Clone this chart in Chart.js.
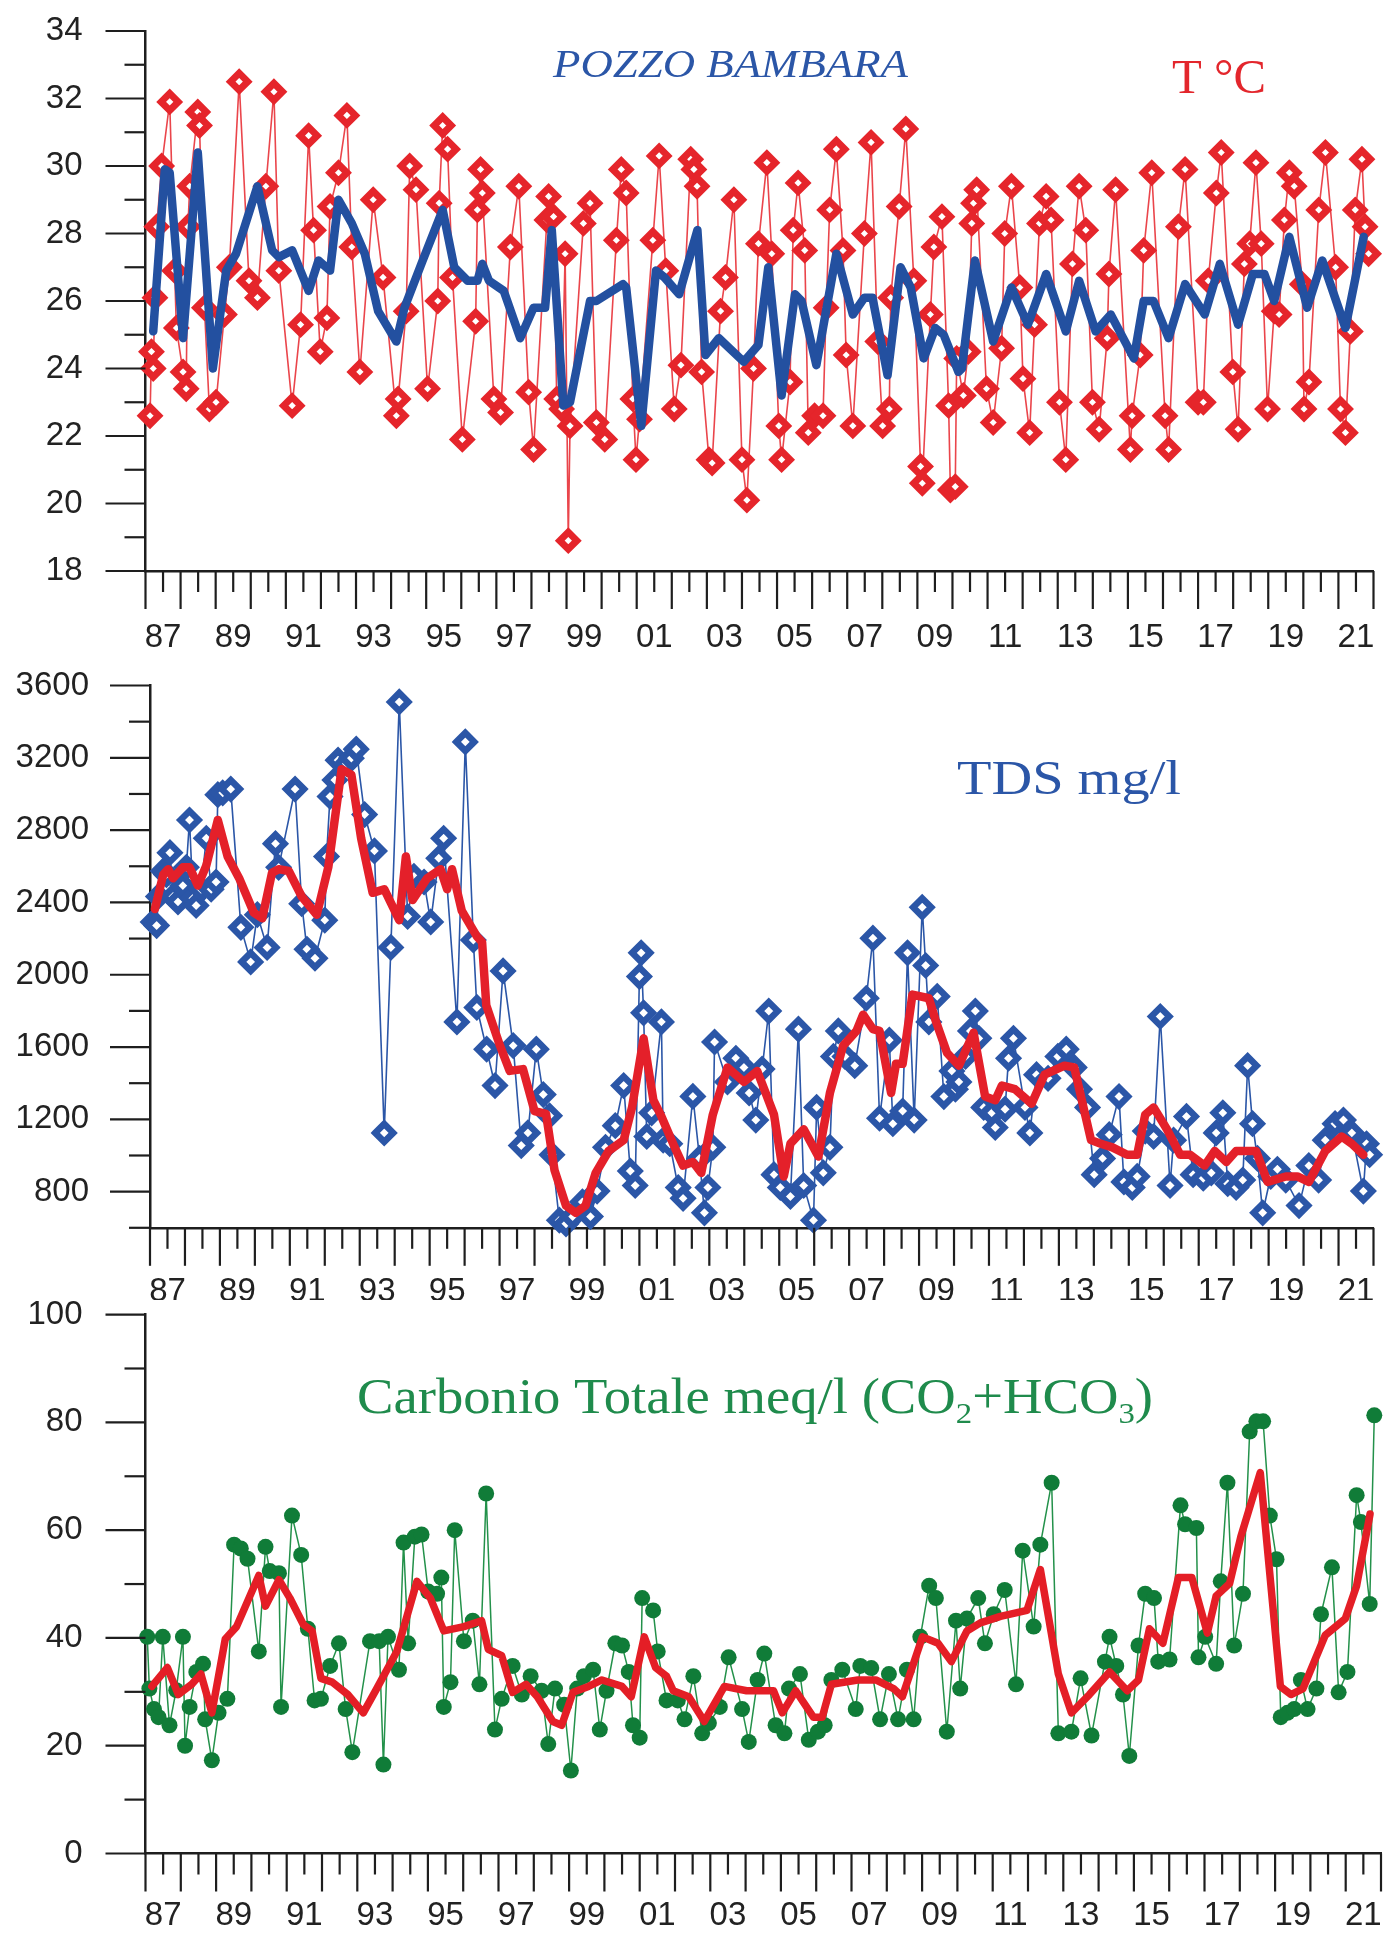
<!DOCTYPE html>
<html><head><meta charset="utf-8">
<script src="https://cdn.jsdelivr.net/npm/chart.js@4.4.1/dist/chart.umd.min.js"></script>
<style>
html,body{margin:0;padding:0;background:#fff;}
#wrap{position:relative;width:1389px;height:1934px;overflow:hidden;background:#fff;}
.pane{position:absolute;left:0;width:1389px;}
canvas{display:block;}
</style></head><body>
<div id="wrap">
<div class="pane" style="top:0;height:655px"><canvas id="c1"></canvas></div>
<div class="pane" style="top:655px;height:645px"><canvas id="c2"></canvas></div>
<div class="pane" style="top:1300px;height:634px"><canvas id="c3"></canvas></div>
</div>
<script>
// ---------------- DATA ----------------
const yearLabels = ['87','89','91','93','95','97','99','01','03','05','07','09','11','13','15','17','19','21'];
const tempTickLabels = [18,20,22,24,26,28,30,32,34];
const tdsTickLabels = [800,1200,1600,2000,2400,2800,3200,3600];
const carbTickLabels = [0,20,40,60,80,100];

// Temperature (°C) samples
const tempYears = [1987.13,1987.17,1987.22,1987.27,1987.32,1987.46,1987.69,1987.83,1987.88,1988.07,1988.16,1988.21,1988.26,1988.49,1988.54,1988.68,1988.82,1989.01,1989.25,1989.39,1989.67,1989.95,1990.19,1990.43,1990.66,1990.80,1991.18,1991.42,1991.65,1991.79,1991.98,1992.17,1992.26,1992.50,1992.74,1992.88,1993.11,1993.49,1993.77,1994.15,1994.20,1994.43,1994.53,1994.71,1995.04,1995.33,1995.37,1995.47,1995.61,1995.75,1996.03,1996.41,1996.46,1996.55,1996.60,1996.93,1997.12,1997.40,1997.64,1997.92,1998.06,1998.44,1998.49,
1998.63,1998.72,1998.86,1998.96,1999.05,1999.10,1999.48,1999.67,1999.85,2000.09,2000.42,2000.56,2000.70,2000.89,2000.98,2001.08,2001.46,2001.64,2001.83,2002.07,2002.26,2002.54,2002.63,2002.72,2002.85,2003.06,2003.15,2003.39,2003.53,2003.77,2004.00,2004.14,2004.33,2004.47,2004.71,2004.85,2005.05,2005.13,2005.37,2005.46,2005.60,2005.79,2005.89,2006.07,2006.31,2006.40,2006.50,2006.69,2006.88,2006.97,2007.16,2007.49,2007.68,2007.87,2008.01,2008.20,2008.24,2008.48,2008.67,2008.90,2009.09,2009.14,2009.37,2009.47,2009.70,2009.89,2009.94,
2010.08,2010.12,2010.31,2010.45,2010.55,2010.60,2010.69,2010.97,2011.16,2011.40,2011.49,2011.68,2011.92,2012.01,2012.20,2012.34,2012.48,2012.67,2012.81,2013.05,2013.23,2013.42,2013.61,2013.80,2013.99,2014.18,2014.41,2014.46,2014.65,2015.07,2015.12,2015.35,2015.45,2015.68,2016.06,2016.16,2016.44,2016.63,2017.00,2017.15,2017.29,2017.52,2017.66,2017.99,2018.14,2018.32,2018.47,2018.65,2018.80,2018.98,2019.17,2019.31,2019.46,2019.60,2019.74,2019.97,2020.02,2020.16,2020.44,2020.63,2020.92,2021.06,2021.20,2021.34,2021.48,2021.67,2021.76,2021.86];
const tempValues = [22.6,24.5,24.0,26.1,28.2,30.0,31.9,26.9,25.2,23.9,23.4,28.2,29.4,31.6,31.2,25.8,22.8,23.0,25.6,27.0,32.5,26.6,26.1,29.4,32.2,26.9,22.9,25.3,30.9,28.1,24.5,25.5,28.8,29.8,31.5,27.6,23.9,29.0,26.7,22.6,23.1,25.7,30.0,29.3,23.4,26.0,28.9,31.2,30.5,26.7,21.9,25.4,28.7,29.9,29.2,23.1,22.7,27.6,29.4,23.3,21.6,28.4,29.1,
28.5,23.1,22.8,27.4,18.9,22.3,28.3,28.9,22.4,21.9,27.8,29.9,29.2,23.1,21.3,22.5,27.8,30.3,26.9,22.8,24.1,30.2,29.9,29.4,23.9,21.3,21.2,25.7,26.7,29.0,21.3,20.1,24.0,27.7,30.1,27.4,22.3,21.3,23.6,28.1,29.5,27.5,22.1,22.6,22.6,25.8,28.7,30.5,27.5,24.4,22.3,28.0,30.7,24.8,22.3,22.8,26.1,28.8,31.1,26.6,21.1,20.6,25.6,27.6,28.5,22.9,20.4,
20.5,24.3,23.2,24.5,28.3,28.9,29.3,23.4,22.4,24.6,28.0,29.4,26.4,23.7,22.1,25.3,28.3,29.1,28.4,23.0,21.3,27.1,29.4,28.1,23.0,22.2,24.9,26.8,29.3,21.6,22.6,24.4,27.5,29.8,22.6,21.6,28.2,29.9,23.0,23.0,26.6,29.2,30.4,23.9,22.2,27.1,27.7,30.1,27.7,22.8,25.7,25.6,28.4,29.8,29.4,26.5,22.8,23.6,28.7,30.4,27.0,22.8,22.1,25.1,28.7,30.2,28.2,27.4];

// Temperature moving average
const tempAvgYears = [1987.22,1987.55,1987.69,1988.07,1988.49,1988.92,1989.30,1989.58,1990.19,1990.61,1990.80,1991.18,1991.65,1991.93,1992.26,1992.50,1992.88,1993.25,1993.63,1994.15,1994.38,1994.90,1995.47,1995.80,1996.18,1996.46,1996.60,1996.79,1997.21,1997.68,1998.06,1998.39,1998.58,1998.91,1999.10,1999.67,1999.85,2000.61,2000.70,2001.13,2001.55,2001.79,2002.21,2002.73,2002.96,2003.34,2004.05,2004.47,2004.75,2005.13,2005.51,2005.70,2006.12,2006.69,2007.16,2007.49,2007.72,2008.15,2008.52,2008.81,2009.18,2009.51,2009.75,2010.17,2010.27,2010.64,2011.16,2011.68,2012.15,2012.67,2013.23,2013.61,2014.08,2014.51,2015.17,2015.45,2015.73,2016.16,2016.63,2017.19,2017.62,2018.14,2018.56,2018.89,2019.17,2019.60,2020.11,2020.54,2021.20,2021.72];
const tempAvgValues = [25.1,29.9,29.8,24.9,30.4,24.0,26.9,27.4,29.4,27.5,27.3,27.5,26.3,27.2,26.9,29.0,28.3,27.4,25.7,24.8,25.8,27.2,28.7,27.0,26.6,26.6,27.1,26.6,26.3,24.9,25.8,25.8,28.1,22.9,23.0,26.0,26.0,26.5,26.4,22.3,26.9,26.7,26.2,28.1,24.4,24.9,24.2,24.7,27.0,23.2,26.2,26.0,24.1,27.4,25.6,26.1,26.1,23.8,27.0,26.4,24.3,25.2,25.0,23.9,24.0,27.2,24.8,26.4,25.3,26.8,25.1,26.6,25.1,25.6,24.3,26.0,26.0,24.9,26.5,25.6,27.1,25.3,26.8,26.8,26.0,27.9,25.8,27.2,25.2,27.9];

// TDS (mg/l) samples
const tdsYears = [1987.09,1987.19,1987.24,1987.38,1987.47,1987.57,1987.66,1987.80,1987.94,1988.04,1988.13,1988.23,1988.32,1988.46,1988.61,1988.75,1988.89,1988.94,1989.08,1989.31,1989.60,1989.88,1990.07,1990.35,1990.59,1990.68,1991.15,1991.34,1991.49,1991.72,1992.00,1992.05,1992.15,1992.29,1992.38,1992.62,1992.76,1992.90,1993.14,1993.42,1993.70,1993.89,1994.13,1994.37,1994.55,1994.84,1995.03,1995.26,1995.40,1995.78,1996.02,1996.25,1996.35,1996.63,1996.87,1997.10,1997.39,1997.62,1997.81,1998.05,
1998.25,1998.43,1998.50,1998.71,1998.90,1999.09,1999.37,1999.60,1999.79,2000.03,2000.31,2000.55,2000.74,2000.88,2001.00,2001.05,2001.12,2001.21,2001.35,2001.63,2001.68,2001.87,2002.11,2002.25,2002.53,2002.72,2002.86,2002.96,2003.10,2003.15,2003.52,2003.76,2003.99,2004.14,2004.33,2004.51,2004.70,2004.85,2005.03,2005.32,2005.55,2005.70,2005.98,2006.07,2006.26,2006.45,2006.55,2006.69,2006.88,2007.16,2007.49,2007.68,2007.87,2008.15,2008.25,2008.53,2008.67,2008.86,2009.09,2009.19,2009.28,2009.52,2009.71,2009.94,
2010.04,2010.14,2010.33,2010.47,2010.61,2010.71,2010.85,2011.08,2011.18,2011.46,2011.56,2011.70,2012.03,2012.17,2012.36,2012.69,2012.97,2013.21,2013.44,2013.59,2013.82,2014.01,2014.25,2014.44,2014.72,2014.86,2015.10,2015.24,2015.47,2015.71,2015.90,2016.18,2016.28,2016.65,2016.84,2017.13,2017.36,2017.50,2017.69,2017.83,2018.07,2018.26,2018.40,2018.54,2018.68,2018.83,2019.06,2019.25,2019.49,2019.87,2020.15,2020.43,2020.62,2020.90,2021.14,2021.38,2021.71,2021.80,2021.89];
const tdsValues = [2292,2272,2433,2574,2554,2675,2433,2403,2493,2594,2856,2423,2383,2473,2755,2473,2513,2996,3006,3027,2262,2071,2332,2151,2725,2594,3027,2393,2141,2091,2302,2654,2986,3077,3187,3167,3198,3248,2886,2685,1125,2151,3509,2322,2544,2513,2292,2644,2755,1739,3288,2192,1819,1588,1387,2021,1608,1055,1125,1588,
1337,1220,1004,642,622,662,743,662,803,1045,1165,1387,914,834,1990,2121,1789,1105,1236,1739,1085,1065,823,763,1327,984,683,823,1045,1628,1407,1538,1487,1346,1196,1478,1799,894,823,773,1699,834,642,1266,904,1045,1548,1689,1548,1497,1870,2202,1206,1638,1176,1246,2121,1196,2373,2051,1739,1880,1326,1467,
1367,1407,1548,1689,1799,1648,1266,1236,1155,1256,1538,1648,1266,1125,1447,1427,1548,1588,1487,1367,1266,894,984,1115,1326,854,823,884,1135,1105,1769,834,1085,1216,894,874,904,1125,1236,844,823,864,1497,1176,984,683,884,924,864,723,944,864,1085,1176,1196,1125,803,1065,1004];

// TDS moving average
const tdsAvgYears = [1987.14,1987.38,1987.52,1987.66,1987.94,1988.13,1988.37,1988.61,1988.94,1989.22,1989.55,1989.97,1990.21,1990.49,1990.68,1990.97,1991.34,1991.77,1992.10,1992.48,1992.76,1993.04,1993.37,1993.70,1994.13,1994.32,1994.51,1994.93,1995.31,1995.50,1995.64,1995.92,1996.35,1996.50,1996.62,1997.01,1997.29,1997.67,1998.00,1998.33,1998.57,
1998.90,1999.18,1999.46,1999.75,2000.12,2000.55,2000.79,2001.12,2001.40,2001.63,2002.01,2002.25,2002.53,2002.77,2003.10,2003.52,2003.99,2004.37,2004.85,2005.13,2005.32,2005.70,2006.12,2006.45,2006.83,2007.21,2007.40,2007.68,2007.87,2008.20,2008.34,2008.53,2008.81,2009.28,2009.47,2009.80,
2010.14,2010.56,2010.89,2011.18,2011.37,2011.74,2012.22,2012.59,2013.16,2013.44,2013.92,2014.20,2014.53,2014.95,2015.24,2015.47,2015.71,2016.09,2016.47,2016.75,2017.17,2017.46,2017.79,2018.07,2018.64,2018.97,2019.49,2019.82,2020.15,2020.62,2021.09,2021.38,2021.71];
const tdsAvgValues = [2363,2554,2584,2534,2594,2594,2493,2604,2856,2654,2534,2343,2312,2564,2584,2574,2433,2332,2594,3137,3107,2755,2453,2473,2302,2654,2413,2534,2584,2473,2584,2353,2212,2180,1830,1608,1468,1478,1246,1230,920,
723,683,723,904,1025,1085,1266,1648,1306,1216,1045,944,964,904,1226,1487,1407,1467,1226,884,1065,1145,995,1346,1608,1689,1779,1699,1689,1346,1507,1507,1890,1870,1749,1568,
1497,1679,1326,1306,1387,1367,1286,1447,1497,1487,1085,1065,1045,1004,1004,1226,1266,1145,1004,1004,944,1025,964,1025,1025,854,884,884,854,1025,1105,1065,1004];

// Total carbon (meq/l) samples
const carbYears = [1987.05,1987.11,1987.24,1987.37,1987.49,1987.68,1987.87,1988.06,1988.12,1988.25,1988.44,1988.63,1988.69,1988.88,1989.07,1989.32,1989.51,1989.70,1989.89,1990.21,1990.40,1990.52,1990.78,1990.84,1991.15,1991.41,1991.60,1991.79,1991.97,1992.23,1992.48,1992.67,1992.86,1993.36,1993.62,1993.74,1993.87,1994.18,1994.31,1994.44,1994.63,1994.82,1995.01,1995.26,1995.38,1995.45,1995.64,1995.76,1996.02,1996.27,1996.46,1996.65,1996.90,1997.09,1997.40,1997.66,1997.91,1998.22,1998.41,1998.60,1998.86,1999.05,1999.23,1999.42,1999.68,1999.87,2000.06,2000.31,2000.50,2000.69,2000.81,2001.00,2001.07,2001.38,2001.51,2001.76,2002.08,2002.27,2002.52,
2002.77,2002.96,2003.27,2003.52,2003.90,2004.09,2004.34,2004.53,2004.85,2005.10,2005.23,2005.54,2005.79,2006.05,2006.24,2006.43,2006.74,2007.12,2007.25,2007.56,2007.81,2008.06,2008.32,2008.57,2008.76,2008.95,2009.20,2009.39,2009.70,2009.96,2010.08,2010.27,2010.59,2010.78,2011.03,2011.34,2011.66,2011.85,2012.16,2012.35,2012.67,2012.86,2013.23,2013.49,2013.80,2014.18,2014.31,2014.50,2014.69,2014.87,2015.13,2015.32,2015.57,2015.69,2016.01,2016.32,2016.45,2016.77,2016.83,2017.02,2017.33,2017.46,2017.65,2017.84,2018.09,2018.28,2018.47,2018.66,2018.85,2019.04,2019.16,2019.35,2019.54,2019.73,2019.92,2020.17,2020.30,2020.61,2020.80,2021.05,2021.31,2021.43,2021.68,2021.81];
const carbValues = [40.2,30.6,26.8,25.3,40.2,23.8,30.3,40.2,20.0,27.2,33.7,35.2,24.9,17.3,26.1,28.7,57.3,56.6,54.7,37.5,56.9,52.4,52.0,27.2,62.7,55.4,41.7,28.4,28.7,34.8,39.0,26.8,18.8,39.4,39.4,16.5,40.2,34.1,57.7,39.0,58.8,59.2,48.6,48.2,51.2,27.2,31.8,60.0,39.4,43.2,31.4,66.8,23.0,28.7,34.8,29.5,32.9,30.2,20.3,30.6,27.6,15.4,30.6,32.9,34.1,23.0,30.2,39.0,38.6,33.7,23.8,21.5,47.4,45.1,37.5,28.4,28.4,24.9,32.9,
22.3,24.2,27.2,36.4,26.8,20.7,32.2,37.1,23.8,22.3,30.6,33.3,21.1,22.6,23.8,32.2,34.1,26.8,34.8,34.4,24.9,33.3,24.9,34.1,24.9,40.2,49.7,47.4,22.6,43.2,30.6,43.6,47.4,39.0,44.4,48.9,31.4,56.2,42.1,57.3,68.8,22.3,22.6,32.5,21.9,35.6,40.2,34.8,29.5,18.1,38.6,48.2,47.4,35.6,36.0,64.6,61.1,60.4,36.4,40.2,35.2,50.5,68.8,38.6,48.2,78.3,80.2,80.2,62.7,54.6,25.3,26.1,26.8,32.2,26.8,30.6,44.4,53.1,29.9,33.7,66.5,61.5,46.3,81.3];

// Total carbon moving average
const carbAvgYears = [1987.18,1987.62,1987.93,1988.31,1988.57,1988.88,1989.26,1989.58,1990.21,1990.40,1990.78,1991.09,1991.47,1991.72,1991.97,1992.29,1992.73,1993.17,1993.55,1994.12,1994.69,1995.07,1995.45,1996.02,1996.52,1996.71,1997.09,1997.40,1997.78,1998.10,1998.54,1998.79,1999.11,1999.55,1999.93,2000.50,2000.76,2001.13,2001.45,2001.76,2001.95,
2002.39,2002.83,2003.40,2004.03,2004.79,2005.04,2005.42,2005.92,2006.17,2006.43,2007.18,2007.69,2008.19,2008.44,2009.01,2009.45,2009.83,2010.27,2010.65,2011.22,2011.97,2012.35,2012.86,2013.23,2013.74,2014.31,2014.81,2015.13,2015.44,2015.82,2016.26,2016.64,2017.08,2017.33,2017.71,2018.03,2018.58,2019.15,2019.45,2019.79,2020.42,2020.99,2021.31,2021.69];
const carbAvgValues = [31.0,34.5,29.5,31.4,33.3,26.1,39.8,42.1,51.6,45.9,50.8,47.4,42.5,41.3,32.5,31.8,29.5,26.1,30.6,37.5,50.5,47.4,41.3,42.1,43.2,37.9,36.7,29.9,31.4,29.1,24.5,23.8,29.9,31.0,32.2,31.0,29.1,40.2,34.5,32.9,30.2,
29.1,24.5,31.0,30.2,30.2,26.1,30.2,25.3,25.3,31.4,32.2,32.2,30.6,29.1,40.2,39.0,35.6,41.3,42.8,44.0,45.1,52.7,33.3,26.1,29.5,33.7,30.2,32.2,41.7,39.0,51.2,51.2,40.9,47.8,50.1,58.8,70.7,31.0,29.5,30.6,40.5,43.6,49.7,63.0];

// ---------------- RENDERING ----------------
const AXIS = '#1e1e1e';
const TICK_FONT = {family: 'Liberation Sans', size: 33};
Chart.defaults.font.family = 'Liberation Sans';

function xy(xs, ys) { return xs.map((x, i) => ({x: x, y: ys[i]})); }

function yearLabel(v) {
  const f = Math.floor(v);
  if (Math.abs(v - f - 0.5) > 1e-6) return '';
  const s = String(f).slice(2);
  return yearLabels.includes(s) ? s : '';
}

const tickMarks = {
  id: 'tickMarks',
  afterDraw(chart, args, o) {
    const ctx = chart.ctx, xs = chart.scales.x, ys = chart.scales.y;
    ctx.save();
    ctx.strokeStyle = o.color; ctx.lineWidth = o.width; ctx.lineCap = 'butt';
    const yBase = xs.top;
    xs.ticks.forEach(t => {
      const p = xs.getPixelForValue(t.value);
      const whole = Math.abs(t.value - Math.round(t.value)) < 1e-6;
      ctx.beginPath(); ctx.moveTo(p, yBase); ctx.lineTo(p, yBase + (whole ? o.xLong : o.xShort)); ctx.stroke();
    });
    const xBase = ys.right;
    ys.ticks.forEach(t => {
      const p = ys.getPixelForValue(t.value);
      const major = t.label !== '' && t.label !== undefined;
      ctx.beginPath(); ctx.moveTo(xBase, p); ctx.lineTo(xBase - (major ? o.yLong : o.yShort), p); ctx.stroke();
    });
    ctx.restore();
  }
};

const titles = {
  id: 'titles',
  afterDraw(chart, args, o) {
    const ctx = chart.ctx;
    (o.items || []).forEach(it => {
      ctx.save();
      ctx.fillStyle = it.color; ctx.textBaseline = 'alphabetic'; ctx.textAlign = 'left';
      const fonts = it.parts.map(p => (it.style || '') + ' ' + (p.sub ? Math.round(it.size * 0.6) : it.size) + 'px "' + it.family + '"');
      let total = 0;
      it.parts.forEach((p, i) => { ctx.font = fonts[i]; total += ctx.measureText(p.t).width; });
      const sx = it.width / total;
      ctx.translate(it.x, it.y); ctx.scale(sx, 1);
      let cx = 0;
      it.parts.forEach((p, i) => {
        ctx.font = fonts[i];
        ctx.fillText(p.t, cx, p.sub ? it.size * 0.2 : 0);
        cx += ctx.measureText(p.t).width;
      });
      ctx.restore();
    });
  }
};

function makeChart(id, c) {
  return new Chart(document.getElementById(id), {
    type: 'line',
    data: { datasets: [
      { data: xy(c.avgX, c.avgY), borderColor: c.avgColor, borderWidth: c.avgWidth, pointRadius: 0,
        tension: 0, order: 0, clip: false, borderJoinStyle: 'round', borderCapStyle: 'round' },
      { data: xy(c.rawX, c.rawY), borderColor: c.rawLine, borderWidth: c.rawWidth,
        pointStyle: c.pointStyle, pointRadius: c.pointRadius, pointBorderWidth: c.pointBorderWidth,
        pointBackgroundColor: c.pointFill, pointBorderColor: c.pointColor, tension: 0, order: 1, clip: false }
    ]},
    options: {
      responsive: true, maintainAspectRatio: false, animation: false, events: [],
      layout: { padding: c.padding },
      plugins: {
        legend: { display: false }, tooltip: { enabled: false },
        tickMarks: { color: AXIS, width: 2.2, xLong: 38, xShort: 21, yLong: 40, yShort: 21 },
        titles: { items: c.titles }
      },
      scales: {
        x: { type: 'linear', min: 1987, max: 2022,
             grid: { display: false, drawTicks: false },
             border: { display: true, color: AXIS, width: 2.5 },
             ticks: { stepSize: 0.5, autoSkip: false, maxRotation: 0, minRotation: 0, padding: c.xPad,
                      font: TICK_FONT, color: '#222', callback: yearLabel },
             afterFit: s => { s.height = c.xHeight; s.paddingLeft = 0; s.paddingRight = 0; } },
        y: { type: 'linear', min: c.yMin, max: c.yMax,
             grid: { display: false, drawTicks: false },
             border: { display: true, color: AXIS, width: 2.5 },
             ticks: { stepSize: c.yStep, autoSkip: false, padding: c.yPad, font: TICK_FONT, color: '#222',
                      callback: v => c.yLabels.includes(v) ? String(v) : '' },
             afterFit: s => { s.width = c.yWidth; s.paddingTop = 0; s.paddingBottom = 0; } }
      }
    },
    plugins: [tickMarks, titles]
  });
}

const BLUE_T = '#2b56a7';
makeChart('c1', {
  rawX: tempYears, rawY: tempValues, avgX: tempAvgYears, avgY: tempAvgValues,
  avgColor: '#2350a0', avgWidth: 8.5,
  rawLine: 'rgba(230,36,43,0.85)', rawWidth: 1.6, pointStyle: 'rectRot', pointRadius: 8.5,
  pointBorderWidth: 7, pointFill: '#ffffff', pointColor: '#e5252b',
  yMin: 18, yMax: 34, yStep: 1, yLabels: tempTickLabels,
  padding: { top: 31, right: 5.5, left: 0, bottom: 0 }, yWidth: 145.5, xHeight: 84, xPad: 47.5, yPad: 63,
  titles: [
    { parts: [{t: 'POZZO BAMBARA'}], x: 553, y: 77, size: 41, family: 'Liberation Serif', style: 'italic', color: BLUE_T, width: 355 },
    { parts: [{t: 'T °C'}], x: 1172, y: 93, size: 48, family: 'Liberation Serif', color: '#e3262c', width: 94 }
  ]
});

makeChart('c2', {
  rawX: tdsYears, rawY: tdsValues, avgX: tdsAvgYears, avgY: tdsAvgValues,
  avgColor: '#e4202a', avgWidth: 8.5,
  rawLine: '#2b56a7', rawWidth: 1.6, pointStyle: 'rectRot', pointRadius: 9,
  pointBorderWidth: 6.5, pointFill: '#ffffff', pointColor: '#2b56a7',
  yMin: 600, yMax: 3600, yStep: 200, yLabels: tdsTickLabels,
  padding: { top: 30.5, right: 3.5, left: 0, bottom: 0 }, yWidth: 150, xHeight: 72.2, xPad: 44.6, yPad: 61,
  titles: [
    { parts: [{t: 'TDS mg/l'}], x: 957, y: 138.6, size: 48, family: 'Liberation Serif', color: BLUE_T, width: 224 }
  ]
});

makeChart('c3', {
  rawX: carbYears, rawY: carbValues, avgX: carbAvgYears, avgY: carbAvgValues,
  avgColor: '#e41e26', avgWidth: 7.5,
  rawLine: '#23914a', rawWidth: 1.5, pointStyle: 'circle', pointRadius: 8,
  pointBorderWidth: 0, pointFill: '#107c38', pointColor: '#107c38',
  yMin: 0, yMax: 100, yStep: 10, yLabels: carbTickLabels,
  padding: { top: 14.6, right: 5.5, left: 0, bottom: 0 }, yWidth: 145.5, xHeight: 80.5, xPad: 42.5, yPad: 63,
  titles: [
    { parts: [{t: 'Carbonio Totale meq/l (CO'}, {t: '2', sub: true}, {t: '+HCO'}, {t: '3', sub: true}, {t: ')'}],
      x: 357, y: 113.2, size: 50, family: 'Liberation Serif', color: '#1f8b4c', width: 796 }
  ]
});
</script>
</body></html>
